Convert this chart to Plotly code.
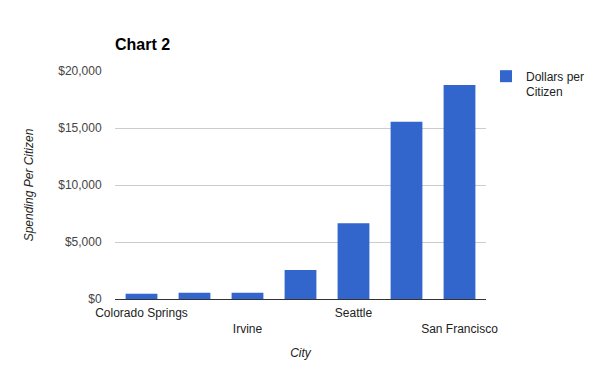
import plotly.graph_objects as go

# Categories (cities 2, 4 and 6 have hidden labels in the reference; names are placeholders)
cities = ["Colorado Springs", "City B", "Irvine", "City D", "Seattle", "City F", "San Francisco"]
dollars_per_citizen = [450, 550, 550, 2550, 6650, 15550, 18780]
shown_ticks = ["Colorado Springs", "Irvine", "Seattle", "San Francisco"]
shown_text = ["Colorado Springs", " <br>Irvine", "Seattle", " <br>San Francisco"]
y_ticks = [0, 5000, 10000, 15000, 20000]
y_text = ["$0", "$5,000", "$10,000", "$15,000", "$20,000"]

font = "Liberation Sans, Arial, sans-serif"

# the page body has an 8px default margin; size the figure to fill the rest of the window
W, H = 592, 363

fig = go.Figure()
fig.add_trace(go.Bar(
    x=cities, y=dollars_per_citizen,
    name="Dollars per<br>Citizen",
    marker=dict(color="#3366cc", line=dict(width=0)),
))

fig.update_layout(
    width=W, height=H,
    margin=dict(l=107, r=114, t=63, b=72, autoexpand=False),
    paper_bgcolor="white", plot_bgcolor="white",
    font=dict(family=font, size=12, color="#444"),
    bargap=0.4,
    showlegend=True,
    title=dict(text="<b>Chart 2</b>", x=107/W, xanchor="left",
               y=1 - 36/H, yanchor="middle",
               font=dict(family=font, size=16, color="black")),
    legend=dict(x=1.0, xanchor="left", y=1.04, yanchor="top",
                xref="paper", yref="paper", valign="top",
                font=dict(family=font, size=12, color="#222"),
                itemwidth=30, tracegroupgap=0),
    xaxis=dict(
        type="category",
        tickmode="array", tickvals=shown_ticks, ticktext=shown_text,
        tickfont=dict(family=font, size=12, color="#222"),
        showgrid=False, showline=True, linecolor="#333", linewidth=1,
        ticks="outside", ticklen=3, tickcolor="rgba(0,0,0,0)", automargin=False,
        title=dict(text="<i>City</i>", font=dict(family=font, size=12, color="#222"), standoff=13),
    ),
    yaxis=dict(
        range=[0, 20000], tickmode="array", tickvals=y_ticks, ticktext=y_text,
        tickfont=dict(family=font, size=12, color="#444"),
        showgrid=True, gridcolor="#cccccc", gridwidth=1,
        zeroline=True, zerolinecolor="#333", zerolinewidth=1,
        showline=False, ticks="outside", ticklen=10, tickcolor="rgba(0,0,0,0)",
        automargin=False,
        title=dict(text="<i>Spending Per Citizen</i>", font=dict(family=font, size=12, color="#222"), standoff=22),
    ),
)

fig.write_html("out.html")
